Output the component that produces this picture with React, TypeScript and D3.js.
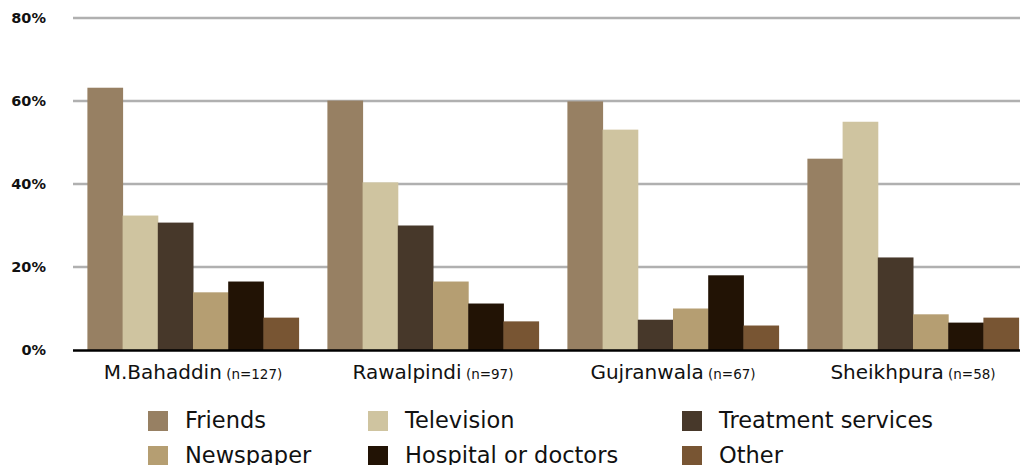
import * as React from 'react';
import * as d3 from 'd3';

const districts = ['M.Bahaddin', 'Rawalpindi', 'Gujranwala', 'Sheikhpura'];
const sampleSizes = ['(n=127)', '(n=97)', '(n=67)', '(n=58)'];
const sources = ['Friends', 'Television', 'Treatment services', 'Newspaper', 'Hospital or doctors', 'Other'];
const colors = ['#978063', '#cfc4a0', '#47382a', '#b59e72', '#221305', '#785533'];

const friends = [63.2, 60.1, 59.9, 46.1];
const television = [32.4, 40.4, 53.1, 55.0];
const treatment = [30.7, 30.0, 7.3, 22.3];
const newspaper = [13.9, 16.5, 10.0, 8.6];
const hospital = [16.5, 11.2, 18.0, 6.6];
const other = [7.8, 6.9, 5.9, 7.8];

const yTicks = [0, 20, 40, 60, 80];

const series = [friends, television, treatment, newspaper, hospital, other];

const App: React.FC = () => {
  const width = 1020;
  const height = 465;

  const x = d3.scaleBand<string>()
    .domain(districts)
    .range([73, 1033])
    .paddingInner(0.12)
    .paddingOuter(0.06);

  const x1 = d3.scaleBand<string>()
    .domain(sources)
    .range([0, x.bandwidth()]);

  const y = d3.scaleLinear()
    .domain([0, 80])
    .range([350, 18]);

  // legend grid: 3 columns, 2 rows
  const legendCols = [148, 368, 682];
  const legendRows = [411, 446];

  return (
    <svg width={width} height={height} style={{ position: 'absolute', left: 0, top: 0, background: '#fff' }}>
      <g>
        {yTicks.map((t) => (
          <g key={t}>
            {t > 0 && (
              <line x1={73} x2={width} y1={y(t)} y2={y(t)} stroke="#b0b0b0" strokeWidth={2.5} />
            )}
            <text
              x={46}
              y={y(t) + 5}
              textAnchor="end"
              fontFamily="DejaVu Sans"
              fontWeight="bold"
              fontSize={14.5}
              fill="#111"
            >
              {t + '%'}
            </text>
          </g>
        ))}
      </g>
      <g>
        {districts.map((d, i) => (
          <g key={d} transform={`translate(${x(d)},0)`}>
            {series.map((s, j) => (
              <rect
                key={j}
                x={x1(sources[j])}
                y={y(s[i])}
                width={x1.bandwidth() + 0.5}
                height={y(0) - y(s[i])}
                fill={colors[j]}
              />
            ))}
          </g>
        ))}
      </g>
      <line x1={73} x2={width} y1={350.5} y2={350.5} stroke="#000" strokeWidth={2.5} />
      <g>
        {districts.map((d, i) => (
          <text
            key={d}
            x={(x(d) as number) + x.bandwidth() / 2}
            y={379}
            textAnchor="middle"
            fontFamily="DejaVu Sans"
            fill="#111"
          >
            <tspan fontSize={20}>{d}</tspan>
            <tspan fontSize={13.5}>{' ' + sampleSizes[i]}</tspan>
          </text>
        ))}
      </g>
      <g>
        {sources.map((s, j) => {
          const cx = legendCols[j % 3];
          const cy = legendRows[Math.floor(j / 3)];
          return (
            <g key={s}>
              <rect x={cx} y={cy} width={20} height={20} fill={colors[j]} />
              <text x={cx + 37} y={cy + 16.5} fontFamily="DejaVu Sans" fontSize={22.5} fill="#111">
                {s}
              </text>
            </g>
          );
        })}
      </g>
    </svg>
  );
};

export default App;
